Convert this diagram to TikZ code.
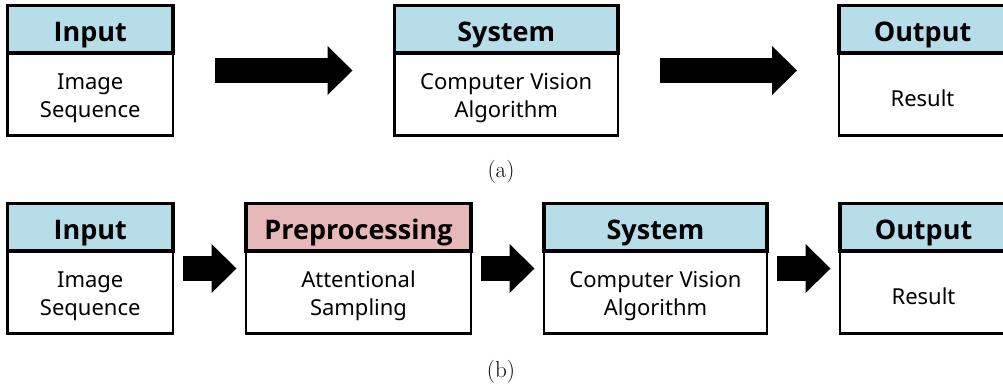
\documentclass[tikz,border=0pt]{standalone}
\usepackage{fontspec}
\newfontfamily\boxfont{Noto Sans}
\IfFontExistsTF{Noto Sans Bold}
  {\newfontfamily\headfont{Noto Sans Bold}}
  {\IfFontExistsTF{Open Sans Bold}
     {\newfontfamily\headfont{Open Sans Bold}}
     {\newfontfamily\headfont[FakeBold=2.5]{Noto Sans}}}
\usetikzlibrary{arrows.meta,calc}
\definecolor{headblue}{HTML}{B7DEE8}
\definecolor{headpink}{HTML}{E6B9B8}

% one stage: a coloured title bar over a white box with the description
% #1 name, #2 left x, #3 top y, #4 width, #5 title fill, #6 title, #7 description
\newcommand\stagebox[7]{%
  \node[bodybox, minimum width=#4, anchor=north west] (#1) at (#2,#3+47.5) {};
  \node[bodytext] (#1-t) at ([yshift=-4pt]#1.center) {#7};
  \node[headbox, fill=#5, minimum width=#4, anchor=south west] (#1-h) at (#1.north west) {#6};
  \coordinate (#1-in)  at ($(#1-h.north west)!.5!(#1.south west)$);
  \coordinate (#1-out) at ($(#1-h.north east)!.5!(#1.south east)$);
}

\begin{document}
\begin{tikzpicture}[x=1pt,y=-1pt,
  headbox/.style={draw=black, line width=3.5pt, minimum height=47.5pt,
    inner sep=0pt, outer sep=0pt, text height=25pt, text depth=0pt,
    font=\headfont\fontsize{27}{30}\selectfont},
  bodybox/.style={draw=black, line width=2.6pt, fill=white, minimum height=82.5pt,
    inner sep=0pt, outer sep=0pt},
  bodytext/.style={inner sep=0pt, align=center,
    font=\boxfont\fontsize{22}{28}\selectfont},
  bigarrow/.style={line width=25pt,
    -{Triangle[length=25pt,width=49pt,line width=0pt]}},
  caption/.style={font=\fontsize{23}{27}\selectfont}
]
\useasboundingbox (0,0) rectangle (1003,384);
\clip (0,0) rectangle (1003,384);

% (a) plain pipeline
\stagebox{inA}{7.5}{5.5}{165.5}{headblue}{Input}{Image\\Sequence}
\stagebox{sysA}{394.5}{5.5}{223.5}{headblue}{System}{Computer Vision\\Algorithm}
\stagebox{outA}{839}{5.5}{167}{headblue}{Output}{Result}
\draw[bigarrow, shorten <=42pt, shorten >=42pt] (inA-out) -- (sysA-in);
\draw[bigarrow, shorten <=42pt, shorten >=42pt] (sysA-out) -- (outA-in);
\node[caption] (capA) at (501,172) {(a)};

% (b) pipeline with the sampling stage in front
\stagebox{inB}{7.5}{203.5}{165.5}{headblue}{Input}{Image\\Sequence}
\stagebox{preB}{246}{203.5}{225}{headpink}{Preprocessing}{Attentional\\Sampling}
\stagebox{sysB}{544}{203.5}{223}{headblue}{System}{Computer Vision\\Algorithm}
\stagebox{outB}{840}{203.5}{167}{headblue}{Output}{Result}
\draw[bigarrow, shorten <=9.5pt, shorten >=9.5pt] (inB-out) -- (preB-in);
\draw[bigarrow, shorten <=9.5pt, shorten >=9.5pt] (preB-out) -- (sysB-in);
\draw[bigarrow, shorten <=9.5pt, shorten >=9.5pt] (sysB-out) -- (outB-in);
\node[caption] (capB) at (501,372) {(b)};
\end{tikzpicture}
\end{document}
